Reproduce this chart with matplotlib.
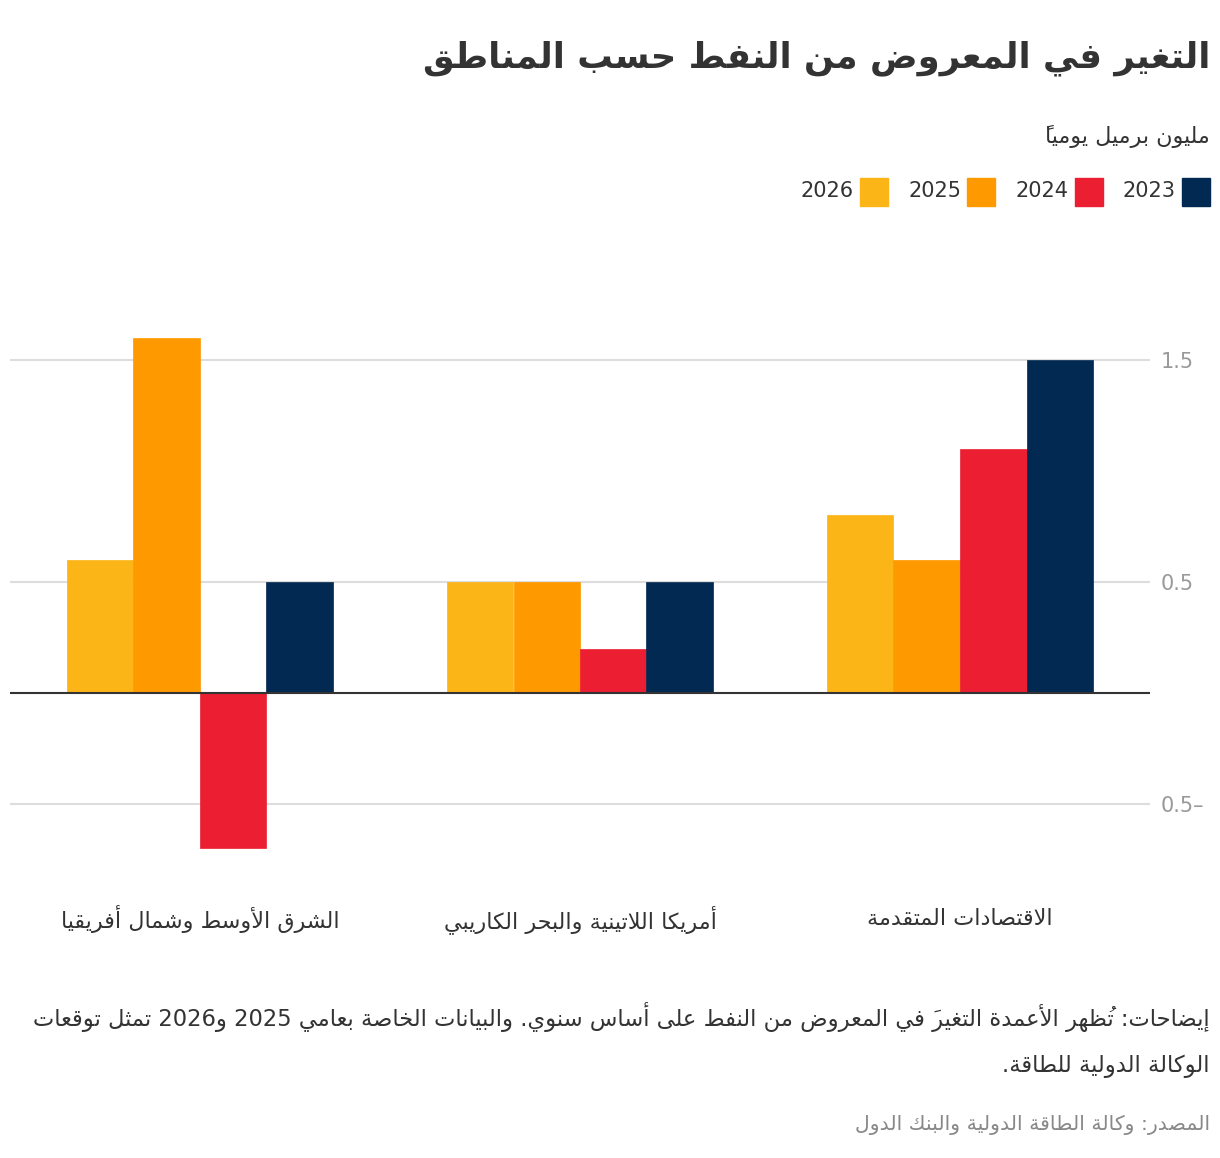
import matplotlib
matplotlib.use("Agg")
import matplotlib.pyplot as plt
import numpy as np
from matplotlib.patches import Rectangle

plt.rcParams["font.family"] = ["DejaVu Sans"]

# ---- chart data ----
TITLE = "التغير في المعروض من النفط حسب المناطق"
SUBTITLE = "مليون برميل يومياً"
REGIONS = ["الاقتصادات المتقدمة", "أمريكا اللاتينية والبحر الكاريبي", "الشرق الأوسط وشمال أفريقيا"]
YEARS = ["2026", "2025", "2024", "2023"]
V2026 = [0.8, 0.5, 0.6]
V2025 = [0.6, 0.5, 1.6]
V2024 = [1.1, 0.2, -0.7]
V2023 = [1.5, 0.5, 0.5]
SERIES = [V2026, V2025, V2024, V2023]
COLORS = ["#FBB517", "#FF9900", "#EB1E32", "#022951"]
YTICKS = [-0.5, 0.5, 1.5]
YTICKLABELS = ["0.5–", "0.5", "1.5"]
NOTE_1 = "إيضاحات: تُظهر الأعمدة التغيرَ في المعروض من النفط على أساس سنوي. والبيانات الخاصة بعامي 2025 و2026 تمثل توقعات"
NOTE_2 = "الوكالة الدولية للطاقة."
SOURCE = "المصدر: وكالة الطاقة الدولية والبنك الدول"

# ---- minimal Arabic shaping (matplotlib does not join or reorder RTL text) ----
AR_LETTERS = "ءآأؤإئابةتثجحخدذرزسشصضطظعغفقكلمنهوىي"
AR_NFORMS = [1, 2, 2, 2, 2, 4, 2, 4, 2, 4, 4, 4, 4, 4, 2, 2, 2, 2,
             4, 4, 4, 4, 4, 4, 4, 4, 4, 4, 4, 4, 4, 4, 4, 2, 2, 4]
FORMS = {}
_code = 0xFE80
for _ch, _n in zip(AR_LETTERS, AR_NFORMS):
    FORMS[_ch] = [_code + k for k in range(_n)]
    _code += _n
LAM_ALEF = {"آ": 0xFEF5, "أ": 0xFEF7, "إ": 0xFEF9, "ا": 0xFEFB}


def is_mark(ch):
    return "\u064b" <= ch <= "\u0652"


def dual(ch):
    return len(FORMS.get(ch, [])) == 4


def joins(ch):
    return len(FORMS.get(ch, [])) >= 2


def ar(text):
    chars = list(text)
    n = len(chars)

    def neighbour(i, step):
        j = i + step
        while 0 <= j < n and is_mark(chars[j]):
            j += step
        return chars[j] if 0 <= j < n else ""

    tokens = []
    i = 0
    while i < n:
        c = chars[i]
        if is_mark(c) and tokens:
            # zero-width mark drawn before its base so it lands on top of it
            tokens[-1] = c + tokens[-1]
            i += 1
            continue
        if c.isdigit():
            j = i
            while j < n and (chars[j].isdigit() or (chars[j] == "." and j + 1 < n and chars[j + 1].isdigit())):
                j += 1
            tokens.append(text[i:j])
            i = j
            continue
        if c in FORMS:
            prev, nxt = neighbour(i, -1), neighbour(i, 1)
            cp = int(dual(prev) and joins(c))
            if c == "ل" and nxt in LAM_ALEF:
                tok = chr(LAM_ALEF[nxt] + cp)
                j = i + 1
                while is_mark(chars[j]):
                    tok = chars[j] + tok
                    j += 1
                tokens.append(tok)
                i = j + 1
                continue
            cn = int(dual(c) and joins(nxt))
            tokens.append(chr(FORMS[c][cp + 2 * cn]))
            i += 1
            continue
        tokens.append(c)
        i += 1
    return "".join(reversed(tokens))


# ---- layout (pixels) ----
W, H = 1220, 1158


def fx(px):
    return px / W


def fy(py):
    return 1 - py / H


fig = plt.figure(figsize=(W / 100, H / 100), dpi=100)
fig.patch.set_facecolor("white")

y_top, y_bot = 315.6, 870.6
ax = fig.add_axes([fx(10), fy(y_bot), fx(1150) - fx(10), fy(y_top) - fy(y_bot)])

x = np.arange(len(REGIONS))
width = 0.175
offsets = [1.5, 0.5, -0.5, -1.5]
for vals, col, off in zip(SERIES, COLORS, offsets):
    ax.bar(x + off * width, vals, width=width, color=col, edgecolor=col,
           linewidth=0.5, zorder=3)

ax.set_xlim(2.5, -0.5)
ax.set_ylim(-0.8, 1.7)
ax.set_yticks(YTICKS)
ax.set_yticklabels(YTICKLABELS)
ax.yaxis.tick_right()
ax.tick_params(axis="y", length=0, pad=8, labelsize=15, labelcolor="#999999")
ax.set_xticks([])
ax.grid(axis="y", color="#dddddd", linewidth=1.5, zorder=0)
ax.axhline(0, color="#333333", linewidth=1.5, zorder=4)
for s in ax.spines.values():
    s.set_visible(False)

for i, name in enumerate(REGIONS):
    ax.text(i, -1.02, ar(name), ha="center", va="center", fontsize=16,
            color="#333333", transform=ax.transData, clip_on=False)

# title, subtitle
fig.text(fx(1210), fy(58), ar(TITLE), ha="right", va="center",
         fontsize=25.5, fontweight="bold", color="#333333")
fig.text(fx(1210), fy(136), ar(SUBTITLE), ha="right", va="center",
         fontsize=16, color="#333333")

# legend: 2023 on the right, 2026 on the left
sq = 28
for k, (yr, col) in enumerate(zip(YEARS, COLORS)):
    x_right = 888 + 107.3 * k
    fig.patches.append(Rectangle((fx(x_right - sq), fy(206)), sq / W, sq / H,
                                 transform=fig.transFigure, color=col))
    fig.text(fx(x_right - sq - 6), fy(191), yr, ha="right", va="center",
             fontsize=15, color="#333333")

# notes (DejaVu Sans Oblique has no Arabic glyphs, so upright)
fig.text(fx(1210), fy(1017), ar(NOTE_1), ha="right", va="center",
         fontsize=16.3, color="#333333")
fig.text(fx(1210), fy(1066), ar(NOTE_2), ha="right", va="center",
         fontsize=16.3, color="#333333")
fig.text(fx(1210), fy(1125), ar(SOURCE), ha="right", va="center",
         fontsize=14.7, color="#888888")

fig.savefig("out.png", dpi=100)
